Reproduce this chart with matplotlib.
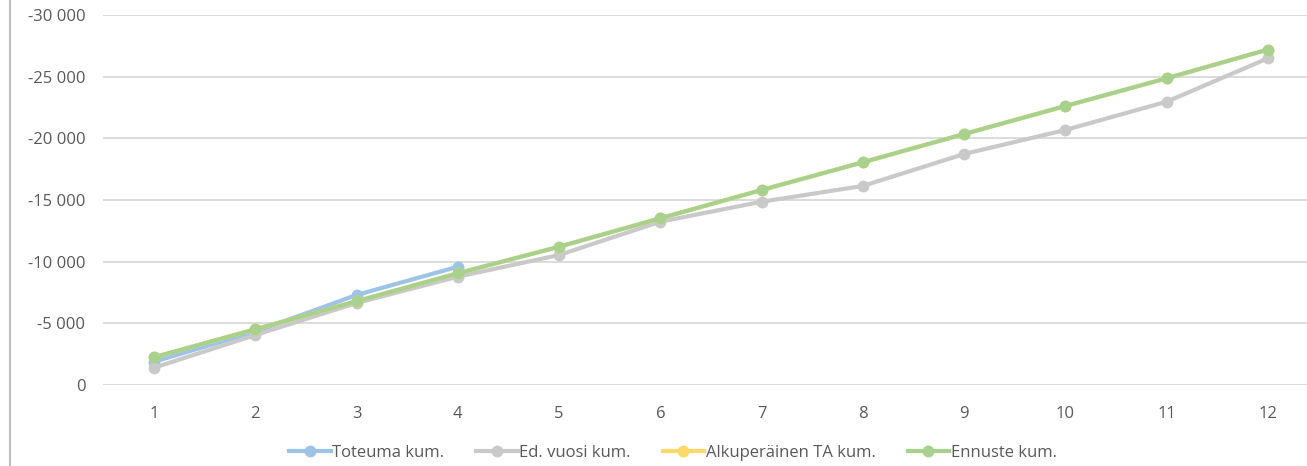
import numpy as np
import matplotlib
matplotlib.use("Agg")
import matplotlib.pyplot as plt
import matplotlib.ticker as ticker
from matplotlib.lines import Line2D

plt.rcParams['font.family'] = ['Open Sans', 'DejaVu Sans']

# kuukaudet ja kumulatiiviset arvot (luettu kuvasta)
months = list(range(1, 13))
toteuma = [-1890, -4320, -7300, -9590]
ed_vuosi = [-1400, -4050, -6650, -8780, -10540, -13240, -14860, -16140, -18730, -20680, -22970, -26490]
alkuperainen_ta = [-2250, -4520, -6790, -9060, -11210, -13520, -15810, -18060, -20350, -22620, -24870, -27200]
ennuste = [-2250, -4520, -6790, -9060, -11210, -13520, -15810, -18060, -20350, -22620, -24870, -27200]

labels = ["Toteuma kum.", "Ed. vuosi kum.", "Alkuperäinen TA kum.", "Ennuste kum."]
colors = ["#9DC3E6", "#C9C9C9", "#FFD966", "#A9D18E"]
txt = "#595959"

W, H = 1307, 466
fig = plt.figure(figsize=(W / 100, H / 100), dpi=100)
ax = fig.add_axes([103.4 / W, (H - 385) / H, 1215.2 / W, 370 / H])

series = [toteuma, ed_vuosi, alkuperainen_ta, ennuste]
for vals, c, lab in zip(series, colors, labels):
    ax.plot(months[:len(vals)], vals, color=c, lw=3, marker='o', ms=7.5,
            label=lab, solid_capstyle='round', solid_joinstyle='round', zorder=3)

ax.set_xlim(0.5, 12.5)
ax.set_ylim(0, -30000)
ax.set_xticks(months)
ax.yaxis.set_major_locator(ticker.MultipleLocator(5000))
ax.yaxis.set_major_formatter(ticker.FuncFormatter(lambda v, p: f"{v:,.0f}".replace(",", " ")))
ax.grid(axis='y', color='#D9D9D9', lw=1.3)
ax.set_axisbelow(True)
for s in ax.spines.values():
    s.set_visible(False)
ax.tick_params(axis='both', length=0, labelsize=12, colors=txt)
ax.tick_params(axis='y', pad=13)
ax.tick_params(axis='x', pad=15)

handles = [Line2D([], [], color=c, lw=3, marker='o', ms=7.5) for c in colors]
fig.legend(handles, labels, loc='center', bbox_to_anchor=(673 / W, 1 - 453 / H),
           ncol=4, frameon=False, fontsize=12, labelcolor=txt,
           handlelength=2.5, handletextpad=0.1, columnspacing=1.9)

# reunaviiva vasemmalla
fig.add_artist(Line2D([9.5 / W, 9.5 / W], [0, 1], color='#BFBFBF', lw=1.5, transform=fig.transFigure))

fig.savefig("out.png", dpi=100)
